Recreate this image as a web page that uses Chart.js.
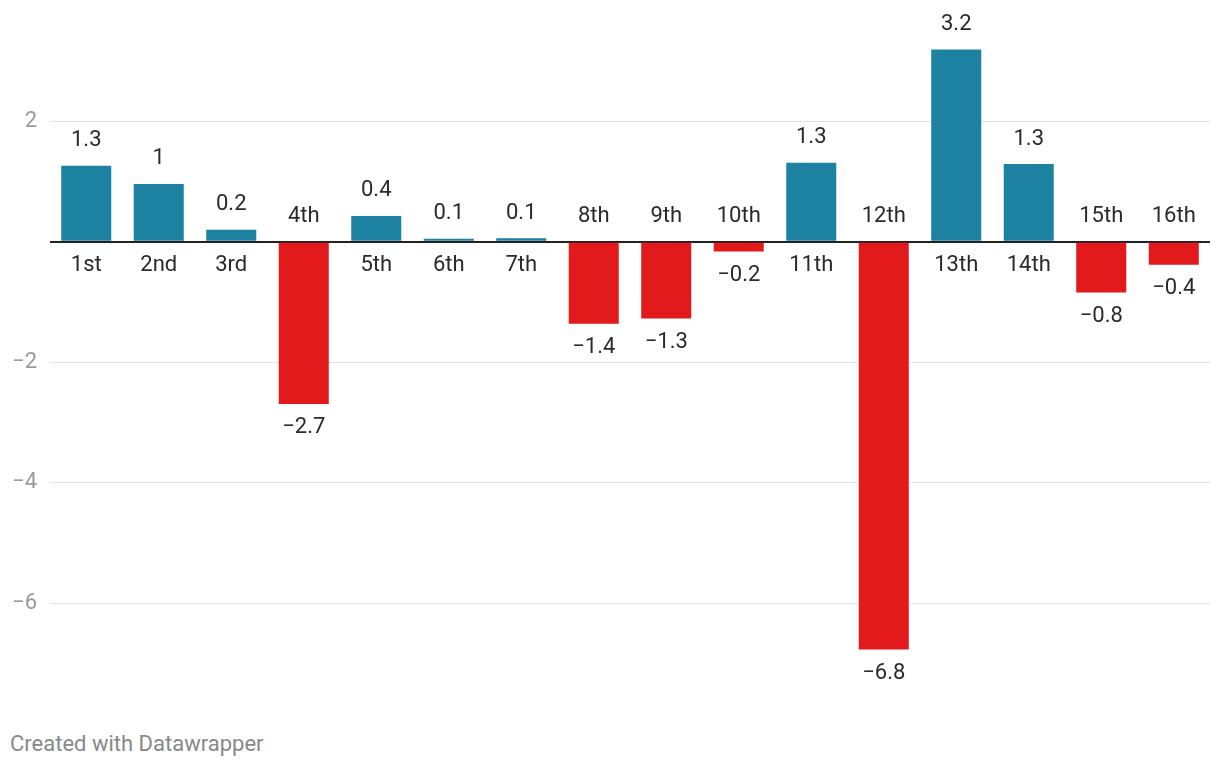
<!DOCTYPE html>
<html>
<head>
<meta charset="utf-8">
<script src="https://cdn.jsdelivr.net/npm/chart.js@4/dist/chart.umd.min.js"></script>
<style>
  html, body { margin: 0; padding: 0; background: #fff; }
  #wrap { position: relative; width: 1220px; height: 768px; }
  #chart-box { position: absolute; left: 0; top: 0; width: 1220px; height: 700px; }
  #credit {
    position: absolute; left: 10px; top: 731px;
    font: 22px Roboto, sans-serif; color: #888;
  }
</style>
</head>
<body>
<div id="wrap">
  <div id="chart-box"><canvas id="barChart"></canvas></div>
  <div id="credit">Created with Datawrapper</div>
</div>
<script>
// categories + values
const places = ["1st", "2nd", "3rd", "4th", "5th", "6th", "7th", "8th",
                "9th", "10th", "11th", "12th", "13th", "14th", "15th", "16th"];
const changes = [1.26, 0.96, 0.2, -2.69, 0.43, 0.05, 0.06, -1.36,
                 -1.27, -0.16, 1.31, -6.76, 3.19, 1.29, -0.84, -0.38];
const yTicks = [-6, -4, -2, 0, 2];

const BLUE = "#1d81a2";
const RED = "#e31a1c";

function fmt(v) {
    let s = v.toFixed(1).replace(/\.0$/, "");
    if (s.startsWith("-")) s = "\u2212" + s.slice(1);
    return s;
}

// category names sit on the opposite side of the zero line, values at bar ends
const barLabels = {
    id: "barLabels",
    afterDatasetsDraw(chart) {
        const ctx = chart.ctx;
        const meta = chart.getDatasetMeta(0);
        const zeroY = chart.scales.y.getPixelForValue(0);
        ctx.save();
        ctx.font = "22px Roboto, sans-serif";
        ctx.fillStyle = "#2a2a2a";
        ctx.textAlign = "center";
        ctx.textBaseline = "middle";
        meta.data.forEach((bar, i) => {
            const v = changes[i];
            const pos = v >= 0;
            ctx.fillText(places[i], bar.x, pos ? zeroY + 24 : zeroY - 25);
            ctx.fillText(fmt(v), bar.x, pos ? bar.y - 25 : bar.y + 24);
        });
        ctx.restore();
    }
};

new Chart(document.getElementById("barChart"), {
    type: "bar",
    data: {
        labels: places,
        datasets: [{
            data: changes,
            backgroundColor: changes.map(v => v >= 0 ? BLUE : RED),
            categoryPercentage: 1,
            barPercentage: 0.69
        }]
    },
    options: {
        responsive: true,
        maintainAspectRatio: false,
        animation: false,
        layout: { padding: { top: 5, bottom: 5, right: 10, left: 0 } },
        plugins: {
            legend: { display: false },
            tooltip: { enabled: false }
        },
        scales: {
            x: { display: false },
            y: {
                min: -7.165,
                max: 3.576,
                afterBuildTicks: axis => { axis.ticks = yTicks.map(v => ({ value: v })); },
                afterFit: axis => { axis.width = 50; },
                border: { display: false },
                grid: {
                    drawTicks: false,
                    color: c => c.tick && c.tick.value === 0 ? "#222" : "#e3e3e3",
                    lineWidth: c => c.tick && c.tick.value === 0 ? 2 : 1
                },
                ticks: {
                    padding: 13,
                    color: "#9a9a9a",
                    font: { family: "Roboto", size: 22 },
                    callback: v => v === 0 ? "" : fmt(v)
                }
            }
        }
    },
    plugins: [barLabels]
});
</script>
</body>
</html>
